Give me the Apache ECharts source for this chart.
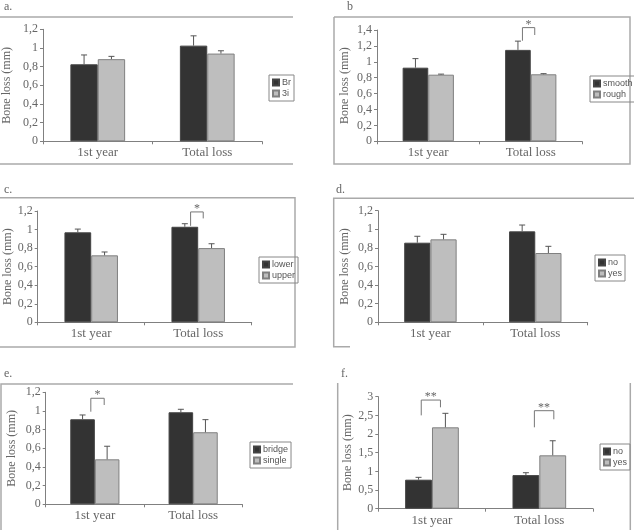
<!DOCTYPE html>
<html>
<head>
<meta charset="utf-8">
<script src="https://cdn.jsdelivr.net/npm/echarts@6/dist/echarts.min.js"></script>
<style>
  html, body { margin: 0; padding: 0; background: #fff; }
  #chart { width: 634px; height: 530px; }
</style>
</head>
<body>
<div id="chart"></div>
<script>
// categories shared by all six panels
const categories = ['1st year', 'Total loss']

// a. implant system
const aNames = ['Br', '3i']
const aBr = [0.825, 1.025], aBrSd = [0.10, 0.105]
const a3i = [0.88, 0.94], a3iSd = [0.03, 0.03]
// b. surface
const bNames = ['smooth', 'rough']
const bSmooth = [0.926, 1.15], bSmoothSd = [0.114, 0.11]
const bRough = [0.838, 0.843], bRoughSd = [0.007, 0.008]
// c. jaw
const cNames = ['lower', 'upper']
const cLower = [0.97, 1.03], cLowerSd = [0.035, 0.033]
const cUpper = [0.722, 0.80], cUpperSd = [0.036, 0.047]
// d.
const dNames = ['no', 'yes']
const dNo = [0.856, 0.978], dNoSd = [0.069, 0.068]
const dYes = [0.892, 0.745], dYesSd = [0.054, 0.072]
// e. restoration
const eNames = ['bridge', 'single']
const eBridge = [0.911, 0.986], eBridgeSd = [0.046, 0.032]
const eSingle = [0.482, 0.772], eSingleSd = [0.14, 0.135]
// f.
const fNames = ['no', 'yes']
const fNo = [0.777, 0.90], fNoSd = [0.063, 0.064]
const fYes = [2.18, 1.43], fYesSd = [0.375, 0.39]

// significance marks: [category, top, left leg end, right leg end]
const bSig = [[1, 1.43, 1.265, 1.337]]
const cSig = [[1, 1.19, 1.04, 1.12]]
const eSig = [[0, 1.136, 0.992, 1.064]]
const fSig = [[0, 2.91, 2.50, 2.716], [1, 2.625, 2.18, 2.395]]
const sigText = { b: ['*'], c: ['*'], e: ['*'], f: ['**', '**'] }

const serif = '"Liberation Serif", "DejaVu Serif", serif'
const sans = '"Liberation Sans", Arial, sans-serif'
const textColor = '#666'
const axisColor = '#808080'

const panels = [
  { id: 'a', label: 'a.', grid: [43, 29.3, 219, 112], max: 1.2, step: 0.2, gap: 30,
    names: aNames, dark: aBr, darkSd: aBrSd, light: a3i, lightSd: a3iSd,
    legend: [269, 75], sig: [], sigX: [] },
  { id: 'b', label: 'b', grid: [377, 30, 205, 111.3], max: 1.4, step: 0.2, gap: 26,
    names: bNames, dark: bSmooth, darkSd: bSmoothSd, light: bRough, lightSd: bRoughSd,
    legend: [590, 76], sig: bSig, sigX: [[-0.081, 0.039]] },
  { id: 'c', label: 'c.', grid: [37.7, 211, 214, 111.3], max: 1.2, step: 0.2, gap: 24,
    names: cNames, dark: cLower, darkSd: cLowerSd, light: cUpper, lightSd: cUpperSd,
    legend: [259, 257], sig: cSig, sigX: [[-0.071, 0.047]] },
  { id: 'd', label: 'd.', grid: [378, 210.7, 209.7, 111.6], max: 1.2, step: 0.2, gap: 27,
    names: dNames, dark: dNo, darkSd: dNoSd, light: dYes, lightSd: dYesSd,
    legend: [595, 255], sig: [], sigX: [] },
  { id: 'e', label: 'e.', grid: [45.7, 392.3, 196.6, 112], max: 1.2, step: 0.2, gap: 28,
    names: eNames, dark: eBridge, darkSd: eBridgeSd, light: eSingle, lightSd: eSingleSd,
    legend: [250, 442], sig: eSig, sigX: [[-0.041, 0.095]] },
  { id: 'f', label: 'f.', grid: [378.3, 396.7, 214.7, 112], max: 3, step: 0.5, gap: 24,
    names: fNames, dark: fNo, darkSd: fNoSd, light: fYes, lightSd: fYesSd,
    legend: [600, 444], sig: fSig, sigX: [[-0.10, 0.079], [-0.046, 0.135]] }
]
const labelPos = { a: [4, 1], b: [347, 1], c: [4, 184], d: [336, 184], e: [4, 368], f: [341, 368] }

const grids = [], xAxes = [], yAxes = [], series = [], legends = [], graphics = []

function errorItem (side) {
  return function (params, api) {
    const cat = api.value(0), mean = api.value(1), sd = api.value(2)
    const bw = api.size([1, 0])[0] * 0.25
    const p0 = api.coord([cat, mean]), p1 = api.coord([cat, mean + sd])
    const x = p0[0] + side * bw / 2
    return {
      type: 'group',
      children: [
        { type: 'line', shape: { x1: x, y1: p0[1], x2: x, y2: p1[1] }, style: { stroke: '#555', lineWidth: 1 } },
        { type: 'line', shape: { x1: x - 3, y1: p1[1], x2: x + 3, y2: p1[1] }, style: { stroke: '#555', lineWidth: 1 } }
      ]
    }
  }
}

function bracketItem (p) {
  return function (params, api) {
    const i = params.dataIndex
    const s = p.sig[i]
    const cw = api.size([1, 0])[0]
    const top = api.coord([s[0], s[1]])
    const xl = top[0] + p.sigX[i][0] * cw, xr = top[0] + p.sigX[i][1] * cw
    const yl = api.coord([s[0], s[2]])[1], yr = api.coord([s[0], s[3]])[1]
    return {
      type: 'group',
      children: [
        { type: 'polyline', shape: { points: [[xl, yl], [xl, top[1]], [xr, top[1]], [xr, yr]] },
          style: { stroke: '#777', lineWidth: 1, fill: null } },
        { type: 'text', x: (xl + xr) / 2, y: top[1] + 3,
          style: { text: sigText[p.id][i], fill: '#666', font: '12px ' + serif, align: 'center', verticalAlign: 'bottom' } }
      ]
    }
  }
}

panels.forEach((p, k) => {
  grids.push({ left: p.grid[0], top: p.grid[1], width: p.grid[2], height: p.grid[3] })
  xAxes.push({
    type: 'category', gridIndex: k, data: categories,
    axisLine: { lineStyle: { color: axisColor } },
    axisTick: { show: true, length: 3, lineStyle: { color: axisColor } },
    axisLabel: { color: textColor, fontFamily: serif, fontSize: 13, margin: 5 }
  })
  yAxes.push({
    type: 'value', gridIndex: k, min: 0, max: p.max, interval: p.step,
    name: 'Bone loss (mm)', nameLocation: 'middle', nameGap: p.gap,
    nameTextStyle: { color: textColor, fontFamily: serif, fontSize: 12 },
    axisLine: { show: true, lineStyle: { color: axisColor } },
    axisTick: { show: true, length: 3, lineStyle: { color: axisColor } },
    splitLine: { show: false },
    axisLabel: {
      color: textColor, fontFamily: serif, fontSize: 12, margin: 5,
      formatter: v => String(+v.toFixed(1)).replace('.', ',')
    }
  })
  series.push({
    type: 'bar', name: p.names[0], xAxisIndex: k, yAxisIndex: k, data: p.dark,
    barGap: 0, barCategoryGap: '50%',
    itemStyle: { color: '#333', borderColor: '#444', borderWidth: 1 }
  })
  series.push({
    type: 'bar', name: p.names[1], xAxisIndex: k, yAxisIndex: k, data: p.light,
    barGap: 0, barCategoryGap: '50%',
    itemStyle: { color: '#bebebe', borderColor: '#808080', borderWidth: 1 }
  })
  series.push({
    type: 'custom', xAxisIndex: k, yAxisIndex: k, clip: false, z: 3,
    data: categories.map((c, i) => [i, p.dark[i], p.darkSd[i]]),
    renderItem: errorItem(-1)
  })
  series.push({
    type: 'custom', xAxisIndex: k, yAxisIndex: k, clip: false, z: 3,
    data: categories.map((c, i) => [i, p.light[i], p.lightSd[i]]),
    renderItem: errorItem(1)
  })
  if (p.sig.length) {
    series.push({
      type: 'custom', xAxisIndex: k, yAxisIndex: k, clip: false, z: 4,
      data: p.sig.map(s => [s[0], s[1]]),
      renderItem: bracketItem(p)
    })
  }
  legends.push({
    left: p.legend[0], top: p.legend[1], orient: 'vertical',
    data: p.names.map(n => ({ name: n, icon: 'rect' })),
    itemWidth: 6, itemHeight: 6, itemGap: 2,
    padding: [3, 3, 3, 3],
    borderColor: '#888', borderWidth: 1,
    selectedMode: false,
    textStyle: { fontFamily: sans, fontSize: 9, color: '#555', padding: [0, 0, 0, -2] }
  })
  graphics.push({
    type: 'text', left: labelPos[p.id][0], top: labelPos[p.id][1],
    style: { text: p.label, fill: textColor, font: '12px ' + serif }
  })
})

// panel frames
const frameStyle = { stroke: '#aaa', lineWidth: 1.5, fill: null }
const frameLines = [
  [[0, 17], [293, 17]], [[0, 164], [293, 164]],
  [[334, 17], [630, 17], [630, 164], [334, 164], [334, 17]],
  [[0, 197.7], [295, 197.7], [295, 347], [0, 347]],
  [[634, 198.3], [333.7, 198.3], [333.7, 346.7], [350, 346.7]],
  [[293, 384], [1, 384], [1, 530]],
  [[337.7, 383], [337.7, 530]], [[630.3, 383], [630.3, 530]]
]
frameLines.forEach(pts => graphics.push({ type: 'polyline', shape: { points: pts }, style: frameStyle, silent: true }))

const chart = echarts.init(document.getElementById('chart'))
chart.setOption({
  animation: false,
  grid: grids,
  xAxis: xAxes,
  yAxis: yAxes,
  legend: legends,
  series: series,
  graphic: graphics
})
</script>
</body>
</html>
